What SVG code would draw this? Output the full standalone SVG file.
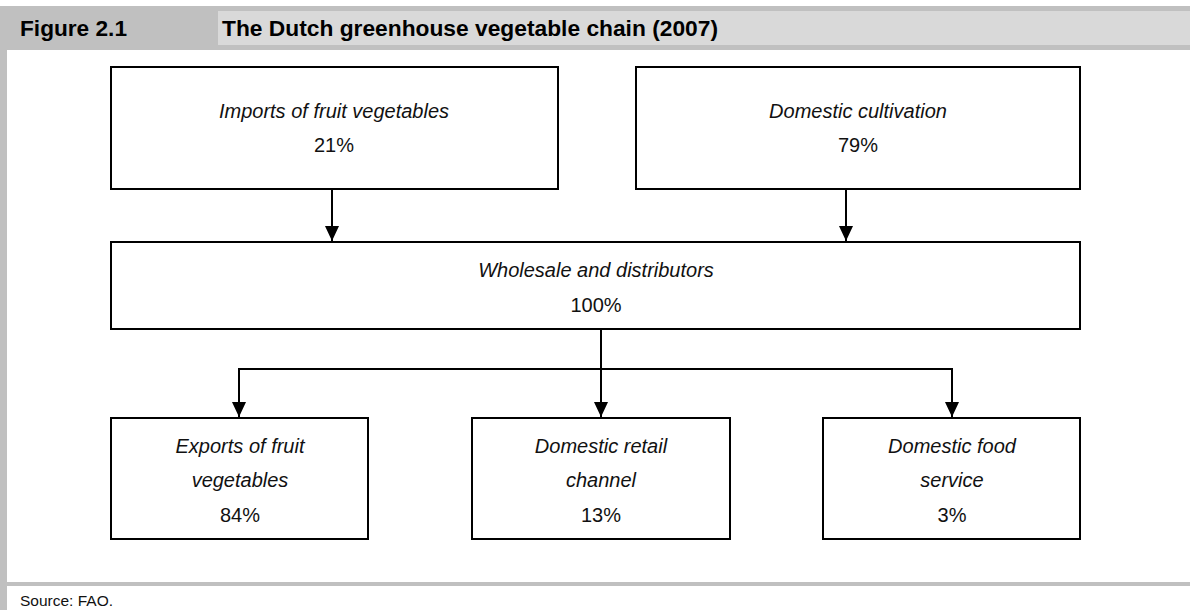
<svg xmlns="http://www.w3.org/2000/svg" width="1190" height="610" viewBox="0 0 1190 610">
<defs>
<style>
.box{fill:#fff;stroke:#000;stroke-width:2}
.lbl{font-family:"Liberation Sans",Arial,sans-serif;font-size:20px;fill:#111;text-anchor:middle}
.it{font-style:italic}
.conn{fill:none;stroke:#000;stroke-width:2}
.hdr{font-family:"Liberation Sans",Arial,sans-serif;font-weight:bold;font-size:22.5px;fill:#000}
</style>
<marker id="arr" markerUnits="userSpaceOnUse" markerWidth="16" markerHeight="16" viewBox="0 0 16 16" refX="15" refY="8" orient="auto">
<path d="M0,1 L15,8 L0,15 Z" fill="#000"/>
</marker>
</defs>
<rect width="1190" height="610" fill="#fff"/>
<g id="frame">
<rect x="0" y="6" width="1190" height="44" fill="#c0c0c0"/>
<rect x="218" y="11" width="972" height="34" fill="#d9d9d9"/>
<rect x="0" y="50" width="7" height="560" fill="#c0c0c0"/>
<rect x="0" y="582" width="1190" height="4" fill="#c0c0c0"/>
<text class="hdr" x="20" y="36" textLength="107" lengthAdjust="spacingAndGlyphs">Figure 2.1</text>
<text class="hdr" x="222" y="36" textLength="496" lengthAdjust="spacingAndGlyphs">The Dutch greenhouse vegetable chain (2007)</text>
<text x="20" y="606" font-family="'Liberation Sans',Arial,sans-serif" font-size="15.5" fill="#111">Source: FAO.</text>
</g>
<g id="connectors">
<line class="conn" x1="332" y1="189" x2="332" y2="241" marker-end="url(#arr)"/>
<line class="conn" x1="846" y1="189" x2="846" y2="241" marker-end="url(#arr)"/>
<line class="conn" x1="601" y1="329" x2="601" y2="417" marker-end="url(#arr)"/>
<polyline class="conn" points="239,417 239,369 952,369 952,417"/>
<line class="conn" x1="239" y1="380" x2="239" y2="417" marker-end="url(#arr)"/>
<line class="conn" x1="952" y1="380" x2="952" y2="417" marker-end="url(#arr)"/>
</g>
<g id="imports">
<rect class="box" x="111" y="67" width="447" height="122"/>
<text class="lbl it" x="334" y="118">Imports of fruit vegetables</text>
<text class="lbl" x="334" y="152">21%</text>
</g>
<g id="domestic-cultivation">
<rect class="box" x="636" y="67" width="444" height="122"/>
<text class="lbl it" x="858" y="118">Domestic cultivation</text>
<text class="lbl" x="858" y="152">79%</text>
</g>
<g id="wholesale">
<rect class="box" x="111" y="242" width="969" height="87"/>
<text class="lbl it" x="596" y="277">Wholesale and distributors</text>
<text class="lbl" x="596" y="312">100%</text>
</g>
<g id="exports">
<rect class="box" x="111" y="418" width="257" height="121"/>
<text class="lbl it" x="240" y="453">Exports of fruit</text>
<text class="lbl it" x="240" y="487">vegetables</text>
<text class="lbl" x="240" y="522">84%</text>
</g>
<g id="retail">
<rect class="box" x="472" y="418" width="258" height="121"/>
<text class="lbl it" x="601" y="453">Domestic retail</text>
<text class="lbl it" x="601" y="487">channel</text>
<text class="lbl" x="601" y="522">13%</text>
</g>
<g id="foodservice">
<rect class="box" x="823" y="418" width="257" height="121"/>
<text class="lbl it" x="952" y="453">Domestic food</text>
<text class="lbl it" x="952" y="487">service</text>
<text class="lbl" x="952" y="522">3%</text>
</g>
</svg>
